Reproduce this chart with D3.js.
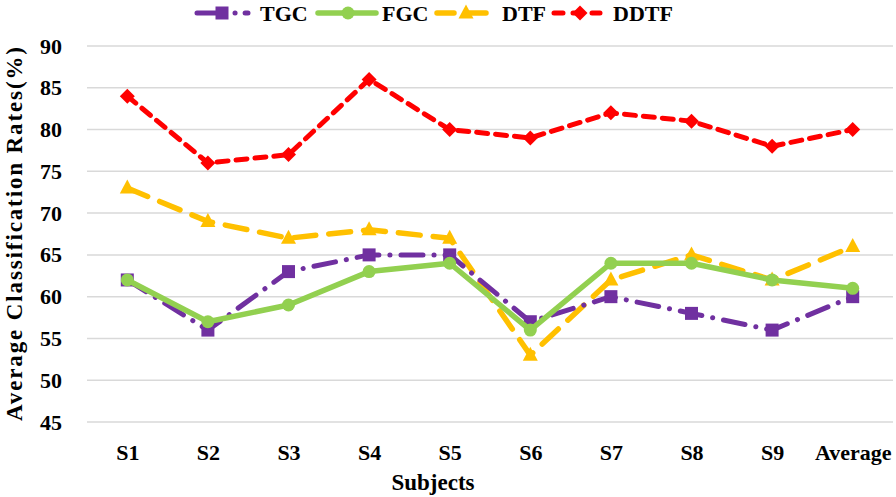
<!DOCTYPE html>
<html><head><meta charset="utf-8">
<script src="https://cdn.jsdelivr.net/npm/d3@7"></script>
<style>body{margin:0;background:#fff}svg{display:block}text{font-family:"Liberation Serif","Times New Roman",serif;font-weight:bold;fill:#000}</style>
</head><body><svg id="c" width="896" height="497"></svg>
<script>
const categories = ["S1","S2","S3","S4","S5","S6","S7","S8","S9","Average"];
const tgc  = [62,56,63,65,65,57,60,58,56,60];
const fgc  = [62,57,59,63,64,56,64,64,62,61];
const dtf  = [73,69,67,68,67,53,62,65,62,66];
const ddtf = [84,76,77,86,80,79,82,81,78,80];
const yTicks = [45,50,55,60,65,70,75,80,85,90];

(function(){
const series = [
  {name:"TGC", values:tgc, color:"#7030A0", dash:"22,11,0.1,11", width:5, marker:"square"},
  {name:"FGC", values:fgc, color:"#92D050", dash:null, width:5.5, marker:"circle"},
  {name:"DTF", values:dtf, color:"#FFC000", dash:"22,13", width:5.5, marker:"triangle"},
  {name:"DDTF", values:ddtf, color:"#FF0000", dash:"11,8", width:5, marker:"diamond"}
];
const FONT = "Liberation Serif";
const svg = d3.select("#c");
const pl = 87, pr = 893, pt = 46, pb = 422;
const x = d3.scalePoint().domain(categories).range([pl, pr]).padding(0.5);
const y = d3.scaleLinear().domain([45,90]).range([pb, pt]);

svg.append("g").selectAll("line").data(yTicks).join("line")
  .attr("x1", pl).attr("x2", pr)
  .attr("y1", d=>y(d)).attr("y2", d=>y(d))
  .attr("stroke", "#d9d9d9").attr("stroke-width", 1.5);

const yAxis = d3.axisLeft(y).tickValues(yTicks).tickSize(0).tickPadding(0);
const gy = svg.append("g").attr("transform", `translate(${62},0)`).call(yAxis);
gy.select(".domain").remove();
gy.selectAll("text").style("font-size","22px").style("font-family",FONT).style("font-weight","bold").attr("fill","#000");

const xAxis = d3.axisBottom(x).tickSize(0).tickPadding(0);
const gx = svg.append("g").attr("transform", `translate(0,${444})`).call(xAxis);
gx.select(".domain").remove();
gx.selectAll("text").style("font-size","22px").style("font-family",FONT).style("font-weight","bold").attr("fill","#000");

svg.append("text").attr("x", 433).attr("y", 490).attr("text-anchor","middle").style("font-size","23px").text("Subjects");
svg.append("text").attr("transform","translate(22,234) rotate(-90)").attr("text-anchor","middle")
  .attr("textLength", 374).attr("lengthAdjust","spacing")
  .style("font-size","23px").text("Average Classification Rates(%)");

function drawMarker(g, type, cx, cy, color){
  if(type==="square") g.append("rect").attr("x",cx-6.5).attr("y",cy-6.5).attr("width",13).attr("height",13).attr("fill",color);
  else if(type==="circle") g.append("circle").attr("cx",cx).attr("cy",cy).attr("r",6.5).attr("fill",color);
  else if(type==="triangle") g.append("path").attr("d",`M${cx},${cy-8.5}L${cx+7.5},${cy+5.5}L${cx-7.5},${cy+5.5}Z`).attr("fill",color);
  else if(type==="diamond") g.append("path").attr("d",`M${cx},${cy-7.5}L${cx+7.5},${cy}L${cx},${cy+7.5}L${cx-7.5},${cy}Z`).attr("fill",color);
}

const line = d3.line().x((d,i)=>x(categories[i])).y(d=>y(d));
const order = [series[3], series[2], series[0], series[1]];
order.forEach(s=>{
  const g = svg.append("g");
  g.append("path").attr("d", line(s.values)).attr("fill","none")
    .attr("stroke", s.color).attr("stroke-width", s.width)
    .attr("stroke-dasharray", s.dash).attr("stroke-linecap","round").attr("stroke-linejoin","round");
  s.values.forEach((v,i)=>drawMarker(g, s.marker, x(categories[i]), y(v), s.color));
});

const legend = [
  {s:series[0], x0:197, x1:248, mx:222, tx:260},
  {s:series[1], x0:318, x1:376, mx:348, tx:382},
  {s:series[2], x0:437, x1:493, mx:466, tx:502},
  {s:series[3], x0:554, x1:600, mx:580, tx:613}
];
const ly = 13;
legend.forEach(l=>{
  const g = svg.append("g");
  let dash = l.s.dash;
  if(l.s.name==="TGC") dash = "20,18,0.1,10";
  if(l.s.name==="DTF") dash = "17,15";
  if(l.s.name==="DDTF") dash = "9,10";
  g.append("line").attr("x1",l.x0).attr("x2",l.x1).attr("y1",ly).attr("y2",ly)
    .attr("stroke",l.s.color).attr("stroke-width",l.s.width).attr("stroke-linecap","round")
    .attr("stroke-dasharray",dash);
  drawMarker(g, l.s.marker, l.mx, ly, l.s.color);
  g.append("text").attr("x",l.tx).attr("y",ly+8).style("font-size","22px").text(l.s.name);
});
})();
</script></body></html>
